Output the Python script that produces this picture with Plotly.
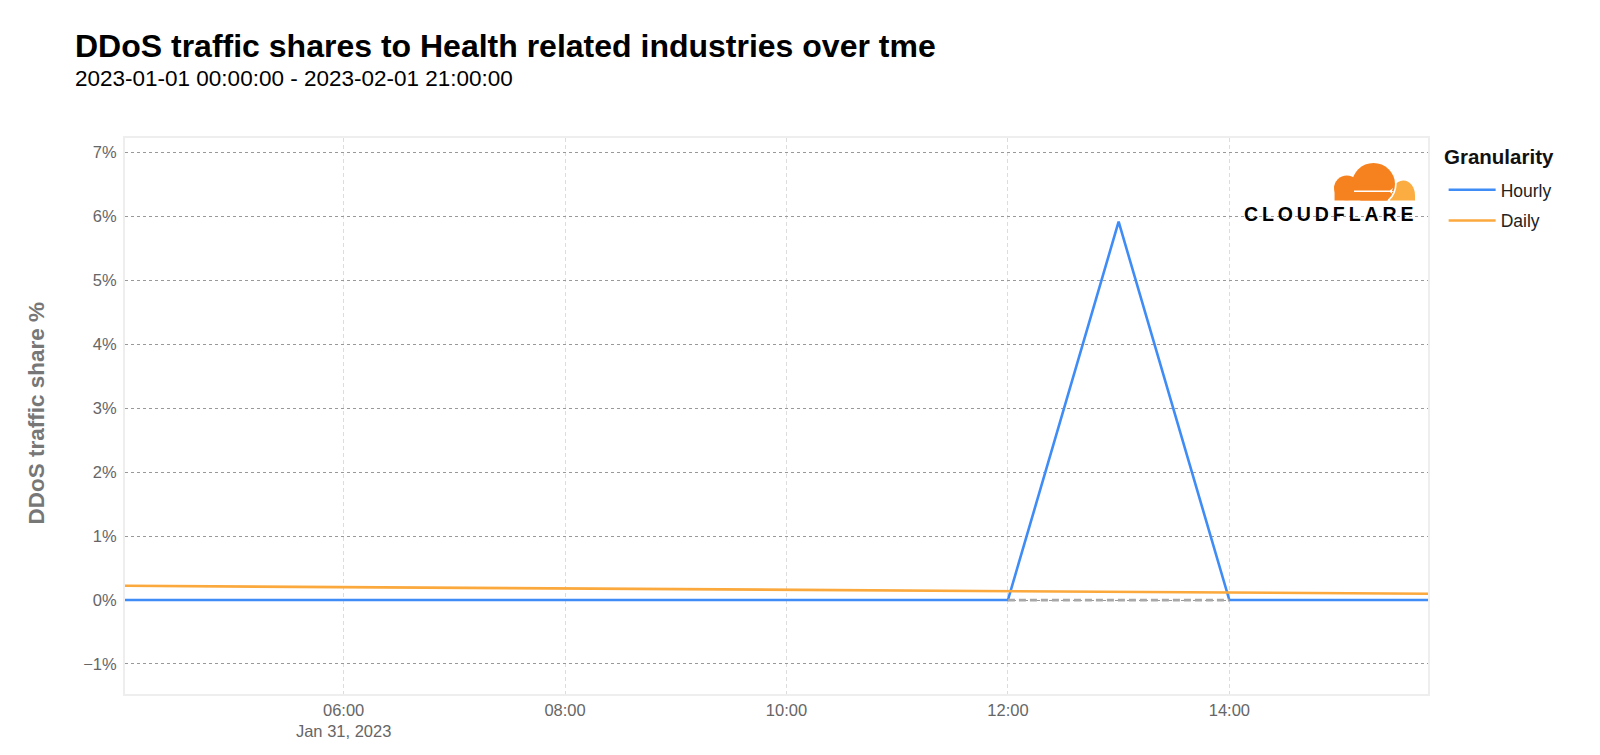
import plotly.graph_objects as go
import urllib.parse

# ---- data ----
hourly_times = [f"2023-01-31 {h:02d}:00" for h in range(24)] + ["2023-02-01 00:00"]
hourly_share = [0, 0, 0, 0, 0, 0, 0, 0, 0, 0, 0, 0, 0, 5.92, 0, 0, 0, 0, 0, 0, 0, 0, 0, 0, 0]
daily_times = ["2023-01-31 00:00", "2023-02-01 00:00"]
daily_share = [0.265, 0.014]
gap_times = ["2023-01-31 12:00", "2023-01-31 14:00"]
gap_share = [0, 0]
x_range = ["2023-01-31 04:01:30", "2023-01-31 15:47:40"]
y_range = [-1.47, 7.23]
y_ticks = [-1, 0, 1, 2, 3, 4, 5, 6, 7]
y_tick_labels = ["\u22121%", "0%", "1%", "2%", "3%", "4%", "5%", "6%", "7%"]

title_text = "DDoS traffic shares to Health related industries over tme"
subtitle_text = "2023-01-01 00:00:00 - 2023-02-01 21:00:00"
y_title_text = "DDoS traffic share %"
legend_title_text = "Granularity"

BLUE = "#3f8cf6"
ORANGE = "#fba83c"
FONT = "Liberation Sans, Arial, sans-serif"

fig = go.Figure()
fig.add_trace(go.Scatter(x=hourly_times, y=hourly_share, mode="lines", name="Hourly",
                         legendgroup="h", line=dict(color=BLUE, width=2.6)))
fig.add_trace(go.Scatter(x=daily_times, y=daily_share, mode="lines", name="Daily",
                         legendgroup="d", line=dict(color=ORANGE, width=2.6)))
fig.add_trace(go.Scatter(x=gap_times, y=gap_share, mode="lines", showlegend=False,
                         line=dict(color="#a8a8a8", width=2.8, dash="7px,4px")))

cloud_svg = (
    "<svg xmlns='http://www.w3.org/2000/svg' viewBox='0 0 80 38'>"
    "<defs><clipPath id='c'><rect x='0' y='0' width='80' height='37.5'/></clipPath></defs>"
    "<g clip-path='url(#c)'>"
    "<path d='M55 38 C55 26 61 17.5 68 17.5 C75 17.5 79.5 25 79.5 32 L79.5 38 Z' fill='#FBAD41'/>"
    "<circle cx='39' cy='21' r='22.6' fill='white'/>"
    "<g fill='#F6821F'>"
    "<circle cx='13' cy='25' r='12.5'/>"
    "<circle cx='39' cy='21' r='21'/>"
    "<rect x='1' y='25' width='52' height='13'/>"
    "</g>"
    "<path d='M20 27.6 L55 27.6 L58 25 L57 28.1 L59.5 28.4 L57 28.9 L57.5 31 L55 29 L20 29 Z' fill='white'/>"
    "</g>"
    "</svg>"
)
cloud_uri = "data:image/svg+xml;utf8," + urllib.parse.quote(cloud_svg)

fig.update_layout(
    width=1600, height=755, autosize=False,
    margin=dict(l=116.5, r=180, t=130, b=69),
    paper_bgcolor="white", plot_bgcolor="white",
    font=dict(family=FONT, color="#666666", size=16),
    showlegend=True,
    legend=dict(
        font=dict(size=17.5, color="#222222"),
        x=1.012, y=0.939, xanchor="left", yanchor="top",
        tracegroupgap=5, itemwidth=47,
    ),
    xaxis=dict(
        range=x_range, type="date", dtick=2 * 3600 * 1000, tickformat="%H:%M\n%b %-d, %Y",
        showgrid=True, gridcolor="#dddddd", griddash="4px,3px", gridwidth=1,
        showline=True, linecolor="#eeeeee", linewidth=2, mirror=True,
        zeroline=False, tickfont=dict(size=16.5, color="#666666"),
        ticks="",
    ),
    yaxis=dict(
        range=y_range, tickvals=y_ticks, ticktext=y_tick_labels,
        showgrid=True, gridcolor="#999999", griddash="3px,3px", gridwidth=1,
        showline=True, linecolor="#eeeeee", linewidth=2, mirror=True,
        zeroline=False, tickfont=dict(size=16.5, color="#666666"),
        ticks="outside", ticklen=3, tickcolor="rgba(0,0,0,0)",
        automargin=False,
    ),
    images=[dict(source=cloud_uri, xref="paper", yref="paper",
                 x=0.9275, y=0.955, sizex=0.0629, sizey=0.0683,
                 xanchor="left", yanchor="top", sizing="stretch", layer="above")],
    annotations=[
        dict(text=f"<b>{title_text}</b>", xref="paper", yref="paper", x=-0.0399, y=1.1655,
             xanchor="left", yanchor="middle", showarrow=False,
             font=dict(size=32, color="#000000", family=FONT)),
        dict(text=subtitle_text, xref="paper", yref="paper", x=-0.0399, y=1.107,
             xanchor="left", yanchor="middle", showarrow=False,
             font=dict(size=22.5, color="#000000", family=FONT)),
        dict(text=f"<b>{y_title_text}</b>", xref="paper", yref="paper", x=-0.0681, y=0.505,
             xanchor="center", yanchor="middle", showarrow=False, textangle=-90,
             font=dict(size=22.5, color="#777777", family=FONT)),
        dict(text=f"<b>{legend_title_text}</b>", xref="paper", yref="paper", x=1.0104, y=0.966,
             xanchor="left", yanchor="middle", showarrow=False,
             font=dict(size=20.5, color="#111111", family=FONT)),
        dict(text="<b>C\u2009L\u2009O\u2009U\u2009D\u2009F\u2009L\u2009A\u2009R\u2009E</b>",
             xref="paper", yref="paper", x=0.9235, y=0.8635,
             xanchor="center", yanchor="middle", showarrow=False,
             font=dict(size=19.5, color="#000000", family=FONT)),
    ],
)

fig.write_html("out.html")
